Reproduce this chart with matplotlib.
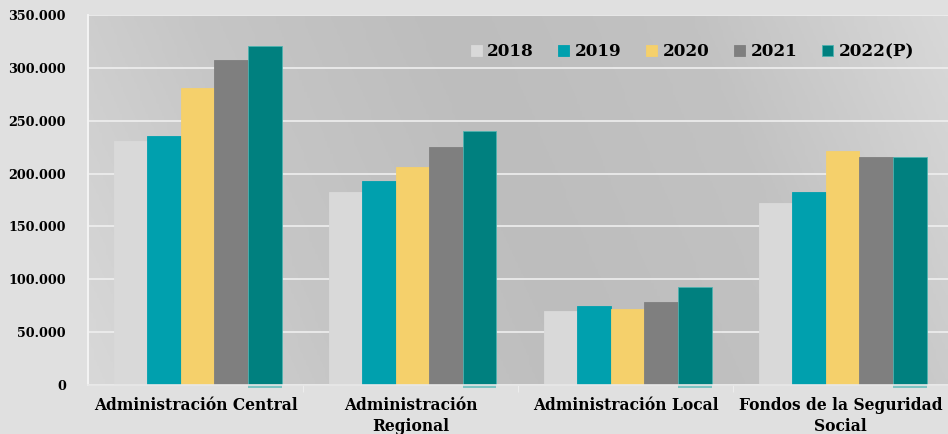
import numpy as np
import matplotlib.pyplot as plt
from matplotlib.colors import LinearSegmentedColormap

# Datos
categorias = ['Administración Central', 'Administración\nRegional',
              'Administración Local', 'Fondos de la Seguridad\nSocial']
anios = ['2018', '2019', '2020', '2021', '2022(P)']
v2018 = [230800, 182600, 70000, 172200]
v2019 = [235500, 193000, 75000, 182600]
v2020 = [281000, 206200, 71900, 221400]
v2021 = [307400, 225100, 78800, 215700]
v2022 = [320700, 240300, 92400, 215700]
series = [v2018, v2019, v2020, v2021, v2022]
colores = ['#d9d9d9', '#00a0ae', '#f5d06b', '#7f7f7f', '#00807f']
bordes = ['#d9d9d9', '#00a0ae', '#f5d06b', '#7f7f7f', '#4fb3b0']

fuente = ['DejaVu Serif Condensed', 'DejaVu Serif']
fondo = '#e0e0e0'

fig = plt.figure(figsize=(9.48, 4.34), dpi=100, facecolor=fondo)
ax = fig.add_axes([88 / 948, 1 - 385 / 434, 1 - 88 / 948, 370 / 434])
ax.set_xlim(-0.5, 3.5)
ax.set_ylim(0, 350000)

# Fondo degradado del área de trazado
cmap = LinearSegmentedColormap.from_list(
    'fondo', ['#d8d8d8', '#c6c6c6', '#bdbdbd', '#c2c2c2', '#d8d8d8'])
xx, yy = np.meshgrid(np.linspace(0, 1, 300), np.linspace(0, 1, 60))
grad = xx * 0.85 + (1 - yy) * 0.15
ax.imshow(grad, cmap=cmap, aspect='auto', extent=(-0.5, 3.5, 0, 350000),
          origin='upper', zorder=0, vmin=0, vmax=1)

# Líneas de cuadrícula
ax.set_yticks(np.arange(0, 350001, 50000))
ax.yaxis.grid(True, color='#efefef', linewidth=1.2, zorder=1)
ax.set_axisbelow(True)

x = np.arange(len(categorias))
ancho = 0.156
for i, (vals, c, b, a) in enumerate(zip(series, colores, bordes, anios)):
    ax.bar(x + (i - 2) * ancho + 0.01, vals, ancho, color=c, edgecolor=b,
           linewidth=0.6, label=a, zorder=2)

# reflejo claro bajo las barras 2022
ax.bar(x + 2 * ancho + 0.01, [-2800] * len(x), ancho, color='#7cc4c2',
       linewidth=0, zorder=2, clip_on=False)

ax.set_yticklabels(['0' if v == 0 else f'{v:,.0f}'.replace(',', '.')
                    for v in np.arange(0, 350001, 50000)],
                   fontfamily=fuente, fontweight='bold', fontsize=9.2)
ax.set_xticks(x)
ax.set_xticklabels(categorias, fontfamily=fuente, fontweight='bold',
                   fontsize=11.2, linespacing=1.25)
ax.tick_params(axis='y', length=0, pad=16)
ax.tick_params(axis='x', length=0, pad=9)
ax.set_xticks([0.5, 1.5, 2.5], minor=True)
ax.tick_params(axis='x', which='minor', length=5, color='#f0f0f0')

for s in ['top', 'right']:
    ax.spines[s].set_visible(False)
ax.spines['left'].set_color('#f4f4f4')
ax.spines['left'].set_linewidth(1.4)
ax.spines['bottom'].set_color('#e8e8e8')
ax.spines['bottom'].set_linewidth(1.2)

leg = ax.legend(loc='upper right', bbox_to_anchor=(0.978, 0.965), ncol=5,
                frameon=False, handlelength=0.65, handleheight=0.65,
                handletextpad=0.3, columnspacing=1.48,
                prop={'family': fuente, 'weight': 'bold', 'size': 12.2})

fig.savefig('out.png', dpi=100, facecolor=fondo)
